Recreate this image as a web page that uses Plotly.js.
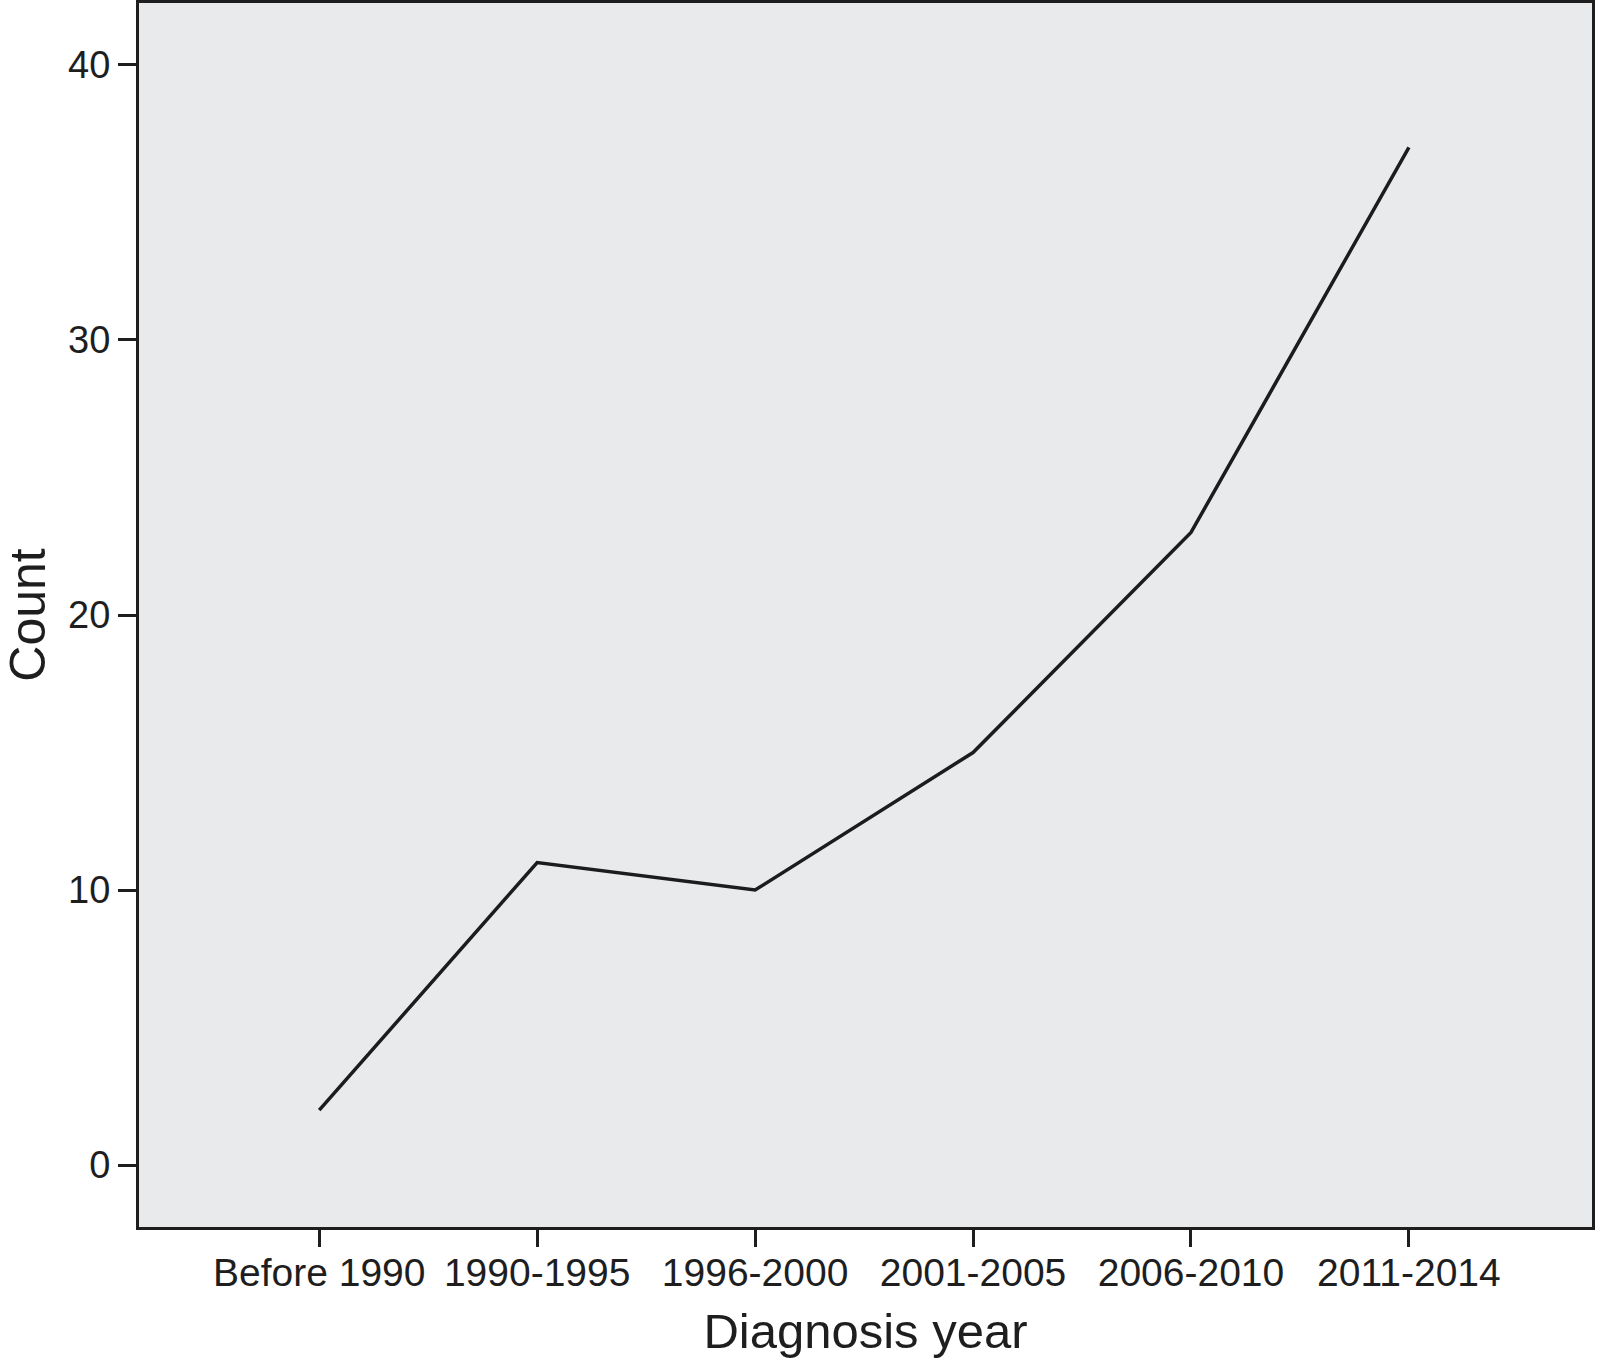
<!DOCTYPE html>
<html>
<head>
<meta charset="utf-8">
<script src="https://cdn.plot.ly/plotly-3.0.1.min.js"></script>
<style>html,body{margin:0;padding:0;background:#fff;}#chart{width:1597px;height:1361px;}</style>
</head>
<body>
<div id="chart"></div>
<script>
var categories = ["Before 1990", "1990-1995", "1996-2000", "2001-2005", "2006-2010", "2011-2014"];
var counts = [2, 11, 10, 15, 23, 37];
var yTicks = [0, 10, 20, 30, 40];

var trace = {
  x: categories,
  y: counts,
  type: "scatter",
  mode: "lines",
  line: {color: "#1c1c1c", width: 3.5},
  hoverinfo: "x+y"
};

var font = "Liberation Sans, Arial, Helvetica, sans-serif";

var layout = {
  width: 1597,
  height: 1361,
  margin: {l: 139, r: 5, t: 3, b: 134},
  paper_bgcolor: "#ffffff",
  plot_bgcolor: "#e9eaec",
  showlegend: false,
  font: {family: font, color: "#1e1e1e"},
  xaxis: {
    type: "category",
    range: [-0.827, 5.84],
    showgrid: false,
    zeroline: false,
    showline: true,
    mirror: true,
    linecolor: "#1e1e1e",
    linewidth: 3,
    ticks: "outside",
    ticklen: 17,
    tickwidth: 3,
    tickcolor: "#1e1e1e",
    ticklabelstandoff: -8,
    tickfont: {family: font, size: 39, color: "#1e1e1e"},
    title: {text: "Diagnosis year", font: {family: font, size: 49, color: "#1e1e1e"}, standoff: 21}
  },
  yaxis: {
    range: [-2.25, 42.25],
    tickvals: yTicks,
    showgrid: false,
    zeroline: false,
    showline: true,
    mirror: true,
    linecolor: "#1e1e1e",
    linewidth: 3,
    ticks: "outside",
    ticklen: 18,
    tickwidth: 3,
    tickcolor: "#1e1e1e",
    tickfont: {family: font, size: 38, color: "#1e1e1e"},
    title: {text: "Count", font: {family: font, size: 50, color: "#1e1e1e"}, standoff: 15}
  }
};

Plotly.newPlot("chart", [trace], layout, {displayModeBar: false, staticPlot: true});
</script>
</body>
</html>
